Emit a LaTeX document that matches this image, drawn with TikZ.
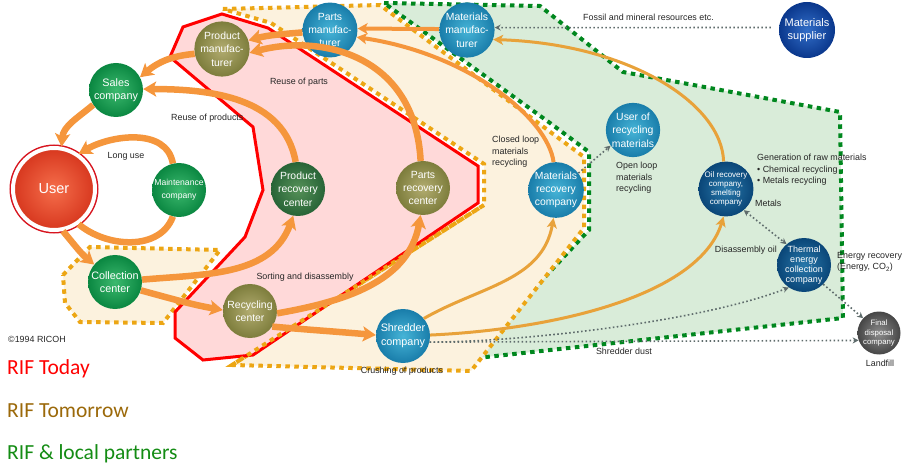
\documentclass[tikz,border=0pt]{standalone}
\usepackage{fontspec}
\setmainfont{Liberation Sans}
\newfontfamily\legendfont{Carlito}
\usetikzlibrary{arrows.meta}

\definecolor{flow}{RGB}{245,150,60}
\definecolor{flowgold}{RGB}{232,162,58}
\definecolor{dotgray}{RGB}{95,108,108}
\definecolor{todayred}{RGB}{255,0,0}
\definecolor{todayfill}{RGB}{255,217,217}
\definecolor{tomorrowdot}{RGB}{236,166,20}
\definecolor{tomorrowfill}{RGB}{252,242,222}
\definecolor{partnerdot}{RGB}{0,135,30}
\definecolor{partnerfill}{RGB}{217,236,217}
\definecolor{legendgold}{RGB}{155,105,10}
\definecolor{legendgreen}{RGB}{20,140,20}
\definecolor{greenin}{RGB}{60,185,110}
\definecolor{greenout}{RGB}{10,135,65}
\definecolor{dkgreenin}{RGB}{85,145,88}
\definecolor{dkgreenout}{RGB}{40,100,55}
\definecolor{olivein}{RGB}{178,172,112}
\definecolor{oliveout}{RGB}{125,125,60}
\definecolor{tealin}{RGB}{70,180,215}
\definecolor{tealout}{RGB}{25,125,170}
\definecolor{bluein}{RGB}{40,120,170}
\definecolor{blueout}{RGB}{10,70,120}
\definecolor{navyin}{RGB}{50,110,200}
\definecolor{navyout}{RGB}{10,55,140}
\definecolor{grayin}{RGB}{140,140,140}
\definecolor{grayout}{RGB}{70,70,70}
\definecolor{redin}{RGB}{245,110,75}
\definecolor{redout}{RGB}{215,55,30}
\definecolor{userring}{RGB}{215,20,30}

\tikzset{
  orb/.style={circle, minimum size=54pt, inner sep=0pt, align=center, text=white, shade, font=\fontsize{10.4}{13.3}\selectfont},
  greenorb/.style={orb, inner color=greenin, outer color=greenout},
  dkgreenorb/.style={orb, inner color=dkgreenin, outer color=dkgreenout},
  oliveorb/.style={orb, inner color=olivein, outer color=oliveout},
  tealorb/.style={orb, inner color=tealin, outer color=tealout},
  blueorb/.style={orb, inner color=bluein, outer color=blueout},
  navyorb/.style={orb, inner color=navyin, outer color=navyout},
  grayorb/.style={orb, inner color=grayin, outer color=grayout},
  userorb/.style={orb, minimum size=82pt, inner color=redin, outer color=redout, draw=white, line width=4pt,
    preaction={draw=userring, line width=7pt}, font=\fontsize{14.5}{16}\selectfont},
  flowthick/.style={draw=flow, line width=6.5pt, -{Stealth[length=13pt, width=15pt, inset=3pt]}},
  flowloop/.style={draw=flow, line width=6.5pt},
  flowmid/.style={draw=flow, line width=4pt, -{Stealth[length=10pt, width=11pt, inset=2.5pt]}},
  flowgold/.style={draw=flowgold, line width=3pt, -{Stealth[length=10pt, width=10pt, inset=2.5pt]}},
  dotlink/.style={draw=dotgray, line width=1.6pt, dash pattern=on 1.6pt off 2.4pt, -{Stealth[length=6pt, width=6pt]}},
  dotboth/.style={dotlink, {Stealth[length=6pt, width=6pt]}-{Stealth[length=6pt, width=6pt]}},
  todayzone/.style={draw=todayred, fill=todayfill, line width=3pt},
  tomorrowzone/.style={draw=tomorrowdot, fill=tomorrowfill, line width=4pt, dash pattern=on 4.5pt off 4.5pt},
  tomorrowedge/.style={draw=tomorrowdot, line width=4pt, dash pattern=on 4.5pt off 4.5pt},
  partnerzone/.style={draw=partnerdot, fill=partnerfill, line width=4pt, dash pattern=on 4.5pt off 4.5pt},
  note/.style={inner sep=0pt, align=left, text=black!85, font=\fontsize{8.9}{11.5}\selectfont},
  legendtext/.style={anchor=base west, inner sep=0pt, font=\legendfont\fontsize{21.5}{24}\selectfont}
}

\begin{document}
\begin{tikzpicture}[x=1pt, y=1pt]
  \useasboundingbox (0,0) rectangle (905,464);

  % Zones
  \draw[partnerzone] (384,461) -- (540,458) -- (623,392) -- (840,352) -- (843,146) -- (468,105)
    -- (589,234) -- (589,312) -- (550,341) -- cycle;
  \draw[tomorrowzone] (223,455) -- (380,459) -- (545,336) -- (584,307) -- (584,236) -- (471,93)
    -- (232,99) -- (484,259) -- (484,300) -- (271,441) -- cycle;
  \draw[tomorrowzone] (63,189) -- (90,217) -- (220,214) -- (163,141) -- (80,142) -- (65,161) -- cycle;
  \draw[todayzone] (170,407) -- (183,437) -- (222,450) -- (268,436) -- (478,298) -- (478,261)
    -- (253,109) -- (203,104) -- (175,126) -- (175,152) -- (245,227) -- (263,274) -- (253,337) -- cycle;
  \draw[tomorrowedge] (232,99) -- (484,259);

  % Centres
  \node[oliveorb]   (pmfr)     at (222,415) {Product\\manufac-\\turer};
  \node[greenorb, font=\fontsize{10.8}{13.3}\selectfont] (sales) at (116,374) {Sales\\company};
  \node[userorb]    (user)     at (54,275)  {User};
  \node[greenorb, font=\fontsize{8.6}{13}\selectfont] (maint) at (179,274) {Maintenance\\company};
  \node[greenorb, font=\fontsize{10.8}{13.3}\selectfont] (collect) at (115,182) {Collection\\center};
  \node[dkgreenorb] (prc)      at (298,275) {Product\\recovery\\center};
  \node[oliveorb]   (parc)     at (423,276) {Parts\\recovery\\center};
  \node[oliveorb]   (recyc)    at (250,153) {Recycling\\center};
  \node[tealorb, font=\fontsize{10.8}{13.8}\selectfont] (shred) at (403,128) {Shredder\\company};
  \node[tealorb]    (partsmfr) at (330,434) {Parts\\manufac-\\turer};
  \node[tealorb]    (matmfr)   at (467,434) {Materials\\manufac-\\turer};
  \node[navyorb, minimum size=56pt, font=\fontsize{11}{13.3}\selectfont] (matsup) at (807,434) {Materials\\supplier};
  \node[tealorb]    (userrm)   at (633,334) {User of\\recycling\\materials};
  \node[tealorb]    (matrec)   at (556,274) {Materials\\recovery\\company};
  \node[blueorb, font=\fontsize{8}{9}\selectfont] (oilrec) at (726,275) {Oil recovery\\company,\\smelting\\company};
  \node[blueorb, font=\fontsize{9}{10}\selectfont] (thermal) at (804,199) {Thermal\\energy\\collection\\company};
  \node[grayorb, minimum size=43pt, font=\fontsize{7.8}{9.5}\selectfont] (final) at (879,131) {Final\\disposal\\company};

  % Product flows
  \draw[flowthick] (pmfr.190) to[out=185, in=40] (sales.28);
  \draw[flowthick] (sales.213) to[out=220, in=85] (user.80);
  \draw[flowthick] (maint.103) to[out=100, in=30] (user.55);
  \draw[flowloop]  (user.-55) to[out=-40, in=250] (maint.-103);
  \draw[flowthick] (user.-78) to[out=-50, in=140] (collect.140);
  \draw[flowthick] (collect.5) to[out=5, in=250] (prc.-100);
  \draw[flowthick] (collect.-18) to[out=-15, in=170] (recyc.178);
  \draw[flowthick] (recyc.-5) to[out=10, in=260] (parc.-95);
  \draw[flowthick] (recyc.-35) to[out=-5, in=175] (shred.178);
  \draw[flowthick] (prc.95) to[out=100, in=0] (sales.2);
  \draw[flowthick] (parc.95) .. controls (415,410) and (320,430) .. (pmfr.-8);
  \draw[flowthick] (partsmfr.185) to[out=185, in=15] (pmfr.18);

  % Material flows
  \draw[flowmid]  (matmfr.178) -- (partsmfr.3);
  \draw[flowmid]  (matrec.95) .. controls (548,345) and (470,410) .. (partsmfr.-15);
  \draw[flowgold] (shred.40) to[out=30, in=260] (matrec.-95);
  \draw[flowgold] (shred.2) .. controls (560,135) and (700,170) .. (oilrec.-95);
  \draw[flowgold] (oilrec.95) .. controls (722,360) and (630,420) .. (matmfr.-20);

  % Dotted links
  \draw[dotlink, shorten <=8pt] (matsup.175) -- (matmfr.5);
  \draw[dotlink] (matrec.37) -- (userrm.215);
  \draw[dotboth] (oilrec.-50) -- (thermal.130);
  \draw[dotlink] (shred.-13) .. controls (520,122) and (700,142) .. (thermal.236);
  \draw[dotlink] (shred.-13) -- (final.200);
  \draw[dotlink] (thermal.-45) -- (final.137);

  % Labels
  \node[note, anchor=west] (fossil)     at (583,447) {Fossil and mineral resources etc.};
  \node[note]              (reuseparts) at (299,382) {Reuse of parts};
  \node[note, anchor=west] (reuseprod)  at (171,346) {Reuse of products};
  \node[note]              (longuse)    at (126,308) {Long use};
  \node[note]              (sorting)    at (305,187) {Sorting and disassembly};
  \node[note]              (crushing)   at (402,93)  {Crushing of products};
  \node[note, anchor=west] (closedloop) at (492,312) {Closed loop\\materials\\recycling};
  \node[note, anchor=west] (openloop)   at (616,286) {Open loop\\materials\\recycling};
  \node[note, anchor=west] (rawmat)     at (757,294) {Generation of raw materials\\\textbullet\ Chemical recycling\\\textbullet\ Metals recycling};
  \node[note, anchor=west] (metals)     at (755,261) {Metals};
  \node[note, anchor=east] (oil)        at (777,214) {Disassembly oil};
  \node[note, anchor=west] (energy)     at (837,202) {Energy recovery\\(Energy, CO\textsubscript{2})};
  \node[note]              (landfill)   at (880,101) {Landfill};
  \node[note]              (dust)       at (624,113) {Shredder dust};
  \node[note, anchor=west] (ricoh)      at (8,125)   {\textcopyright 1994 RICOH};

  % Legend
  \node[legendtext, text=todayred]    (today)    at (7,90) {RIF Today};
  \node[legendtext, text=legendgold]  (tomorrow) at (7,47) {RIF Tomorrow};
  \node[legendtext, text=legendgreen] (partners) at (7,5)  {RIF \& local partners};
\end{tikzpicture}
\end{document}
